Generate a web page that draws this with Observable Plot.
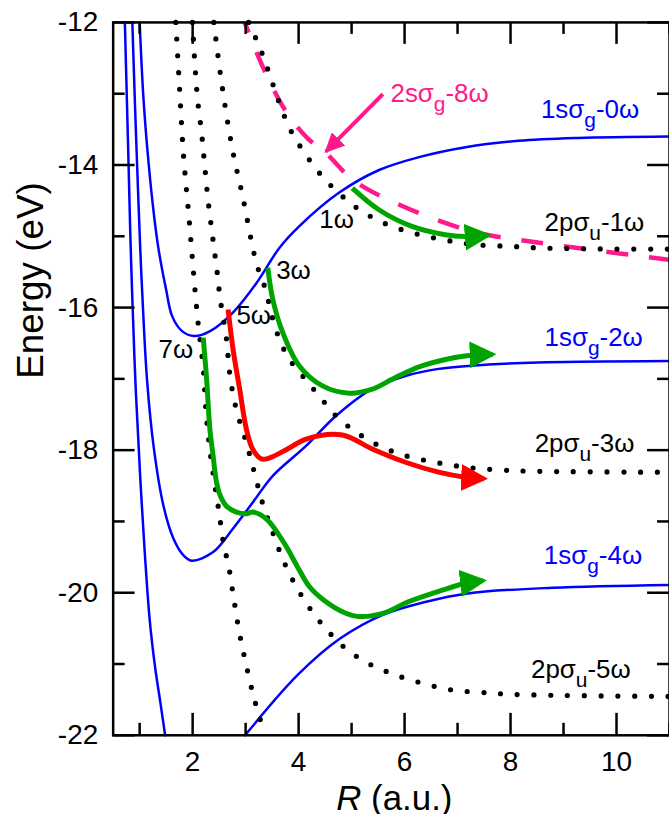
<!DOCTYPE html>
<html>
<head>
<meta charset="utf-8">
<script src="https://cdn.jsdelivr.net/npm/d3@7"></script>
<script src="https://cdn.jsdelivr.net/npm/@observablehq/plot@0.6"></script>
<style>
  html, body { margin: 0; padding: 0; background: #fff; overflow: hidden; }
  #chart svg { display: block; }
</style>
</head>
<body>
<div id="chart"></div>
<script>
// Dressed H2+ potential curves: 1sσg − nω (solid), 2pσu − nω (dotted), 2sσg − 8ω (dashed)
// R in atomic units, energy in eV.

// 1sσg − 0ω
const g0R = [1.0, 1.074, 1.172, 1.275, 1.359, 1.5, 1.613, 1.8, 2.03, 2.33, 2.76, 3.21, 3.64, 4.01, 4.76, 5.52, 6.27, 7.15, 8.15, 9.27, 11];
const g0E = [-12, -13.09, -14.0, -14.73, -15.19, -15.75, -16.12, -16.33, -16.4, -16.33, -16.07, -15.65, -15.16, -14.86, -14.39, -14.07, -13.89, -13.75, -13.66, -13.62, -13.6];

// 1sσg − 2ω
const g2R = [0.862, 0.909, 0.952, 1.012, 1.055, 1.138, 1.262, 1.449, 1.637, 1.819, 1.982, 2.387, 2.763, 3.138, 3.513, 4.14, 4.703, 5.389, 6.016, 6.641, 7.579, 8.517, 11];
const g2E = [-12, -13.09, -14.0, -15.19, -15.89, -17.0, -17.94, -18.78, -19.24, -19.47, -19.55, -19.43, -19.1, -18.73, -18.36, -17.94, -17.52, -17.14, -16.96, -16.86, -16.8, -16.77, -16.75];

// 1sσg − 4ω: inner wall and outer branch (the minimum lies below −22 eV)
const g4InnerR = [0.721, 0.759, 0.791, 0.823, 0.856, 0.918, 1.012, 1.187, 1.294, 1.387, 1.481];
const g4InnerE = [-12, -13.09, -14.0, -14.95, -15.75, -17.0, -18.4, -20.36, -21.06, -21.52, -22];
const g4OuterR = [2.99, 3.988, 4.789, 5.59, 6.389, 7.19, 8.791, 11];
const g4OuterE = [-22, -21.15, -20.64, -20.31, -20.13, -20.01, -19.93, -19.89];

// 2pσu − 1ω
const u1R = [3.057, 3.282, 3.464, 3.639, 3.858, 4.14, 4.451, 4.796, 5.171, 5.64, 6.233, 6.796, 7.359, 7.986, 8.579, 9.205, 9.83, 11];
const u1E = [-12, -12.38, -12.755, -13.137, -13.524, -13.86, -14.163, -14.419, -14.638, -14.824, -14.968, -15.057, -15.118, -15.141, -15.164, -15.173, -15.178, -15.18];

// 2pσu − 3ω
const u3R = [2.4, 2.545, 2.751, 2.95, 3.202, 3.376, 3.489, 3.639, 3.826, 4.076, 4.389, 4.703, 5.078, 5.515, 6.016, 6.579, 7.172, 7.766, 8.391, 11];
const u3E = [-12, -12.835, -13.78, -14.46, -15.373, -15.747, -16.096, -16.446, -16.725, -16.959, -17.238, -17.518, -17.742, -17.937, -18.077, -18.17, -18.24, -18.277, -18.295, -18.31];

// 2pσu − 5ω
const u5R = [1.997, 2.044, 2.095, 2.17, 2.232, 2.294, 2.376, 2.457, 2.522, 2.639, 2.701, 2.823, 3.007, 3.157, 3.314, 3.513, 3.719, 3.95, 4.213, 4.509, 4.885, 5.309, 5.789, 6.333, 6.885, 7.47, 8.07, 11];
const u5E = [-12, -12.601, -13.09, -13.556, -14.045, -14.512, -15.002, -15.467, -15.886, -16.446, -16.935, -17.424, -17.879, -18.287, -18.729, -19.158, -19.559, -19.906, -20.22, -20.5, -20.78, -20.989, -21.143, -21.269, -21.363, -21.399, -21.427, -21.455];

// 2pσu − 7ω
const u7R = [1.682, 1.75, 1.825, 1.937, 2.044, 2.106, 2.2, 2.25, 2.312, 2.4, 2.5, 2.594, 2.671, 2.776, 2.879, 3.001, 3.151, 3.314, 3.367];
const u7E = [-12, -12.881, -13.836, -14.792, -15.747, -16.236, -16.841, -17.424, -17.914, -18.393, -18.878, -19.358, -19.591, -20.081, -20.546, -20.98, -21.455, -21.874, -22];

// 2sσg − 8ω
const s8R = [2.982, 3.326, 3.765, 4.17, 4.515, 4.952, 5.265, 5.765, 6.515, 7.391, 8.141, 9.267, 11];
const s8E = [-12, -12.625, -13.254, -13.626, -13.831, -14.163, -14.325, -14.512, -14.744, -14.954, -15.048, -15.164, -15.33];

// Dissociation pathways (arrows)
const path1R = [5.014, 5.515, 6.14, 6.766, 7.142, 7.57];
const path1E = [-14.325, -14.628, -14.862, -14.978, -15.002, -14.985];
const path3R = [3.419, 3.513, 3.701, 4.014, 4.451, 4.952, 5.389, 5.828, 6.327, 6.954, 7.266, 7.66];
const path3E = [-15.443, -15.887, -16.352, -16.819, -17.099, -17.201, -17.145, -16.981, -16.819, -16.701, -16.669, -16.657];
const path5R = [2.669, 2.763, 2.888, 3.014, 3.132, 3.295, 3.451, 3.789, 4.14, 4.826, 5.389, 6.016, 6.641, 7.141, 7.5];
const path5E = [-16.026, -16.585, -17.145, -17.704, -17.984, -18.123, -18.109, -17.984, -17.844, -17.788, -17.984, -18.17, -18.309, -18.379, -18.4];
const path7R = [2.2, 2.264, 2.325, 2.382, 2.451, 2.522, 2.639, 2.826, 3.014, 3.138, 3.4, 3.734, 3.977, 4.202, 4.484, 4.859, 5.14, 5.59, 6.07, 6.71, 7.129, 7.48];
const path7E = [-16.422, -17.005, -17.704, -18.053, -18.449, -18.641, -18.787, -18.869, -18.892, -18.869, -18.97, -19.312, -19.634, -19.913, -20.109, -20.277, -20.333, -20.29, -20.127, -19.964, -19.871, -19.83];

// Pointer to the 2sσg − 8ω curve
const pointerR = [5.59, 4.515];
const pointerE = [-13.007, -13.813];

// Curve labels ("_x" marks a subscript)
const labelText = ["1sσ_g-0ω", "2pσ_u-1ω", "1sσ_g-2ω", "2pσ_u-3ω", "1sσ_g-4ω", "2pσ_u-5ω", "2sσ_g-8ω", "1ω", "3ω", "5ω", "7ω"];
const labelState = ["1sσg", "2pσu", "1sσg", "2pσu", "1sσg", "2pσu", "2sσg", "2pσu", "2pσu", "2pσu", "2pσu"];
const labelR = [8.573, 8.642, 8.642, 8.455, 8.629, 8.386, 5.734, 4.389, 3.577, 2.826, 1.356];
const labelE = [-13.342, -14.932, -16.539, -18.03, -19.591, -21.199, -13.114, -14.884, -15.597, -16.236, -16.702];

// Axis ticks
const xMajor = [2, 4, 6, 8, 10];
const xMinor = [1, 3, 5, 7, 9, 11];
const yMajor = [-22, -20, -18, -16, -14, -12];
const yMinor = [-21, -19, -17, -15, -13];

const BLUE = "#0000ff", GREEN = "#00a300", RED = "#ff0000", PINK = "#ff1a8c";
const stateColor = {"1sσg": BLUE, "2pσu": "#000000", "2sσg": PINK};

const W = 671, H = 816, mL = 113, mR = 0, mT = 22, mB = 79;
const plotW = W - mL - mR, plotH = H - mT - mB;
const MAJOR = 22, MINOR = 12;

const pts = (R, E) => R.map((r, i) => [r, E[i]]);

// filled triangular arrowhead whose tip sits a few px past the line end
function head(len, half, overshoot) {
  return (color) => {
    const m = d3.create("svg:marker")
      .attr("viewBox", `0 ${-half} ${len} ${2 * half}`)
      .attr("markerWidth", len)
      .attr("markerHeight", 2 * half)
      .attr("markerUnits", "userSpaceOnUse")
      .attr("refX", len - overshoot)
      .attr("refY", 0)
      .attr("orient", "auto");
    m.append("path")
      .attr("d", `M0,${-half}L${len},0L0,${half}Z`)
      .attr("fill", color)
      .attr("stroke", "none");
    return m.node();
  };
}

const solid = {curve: "catmull-rom", stroke: BLUE, strokeWidth: 2.5};
const dotted = {curve: "catmull-rom", stroke: "#000", strokeWidth: 5.2, strokeDasharray: "0,16.8", strokeLinecap: "round"};
const thick = (color) => ({curve: "catmull-rom", stroke: color, strokeWidth: 5, strokeLinecap: "butt", markerEnd: head(27, 13.5, 4)});

const tickStyle = {stroke: "#000", strokeWidth: 2.5};

const chart = Plot.plot({
  width: W, height: H,
  marginLeft: mL, marginRight: mR, marginTop: mT, marginBottom: mB,
  x: {domain: [0.5, 11]},
  y: {domain: [-22, -12]},
  color: {type: "identity"},
  style: {fontFamily: "'Liberation Sans', Arial, sans-serif", background: "#fff", color: "#000", overflow: "visible"},
  marks: [
    Plot.line(pts(g0R, g0E), solid),
    Plot.line(pts(g2R, g2E), solid),
    Plot.line(pts(g4InnerR, g4InnerE), solid),
    Plot.line(pts(g4OuterR, g4OuterE), solid),

    Plot.line(pts(s8R, s8E), {curve: "catmull-rom", stroke: PINK, strokeWidth: 4.5, strokeDasharray: "22,21", strokeDashoffset: 11, strokeLinecap: "butt"}),

    Plot.line(pts(u1R, u1E), dotted),
    Plot.line(pts(u3R, u3E), dotted),
    Plot.line(pts(u5R, u5E), dotted),
    Plot.line(pts(u7R, u7E), dotted),

    Plot.line(pts(path1R, path1E), thick(GREEN)),
    Plot.line(pts(path3R, path3E), thick(GREEN)),
    Plot.line(pts(path7R, path7E), thick(GREEN)),
    Plot.line(pts(path5R, path5E), thick(RED)),

    Plot.line(pts(pointerR, pointerE), {stroke: PINK, strokeWidth: 4, strokeLinecap: "butt", markerEnd: head(20, 9.5, 2)}),

    Plot.text(labelText, {
      x: (d, i) => labelR[i], y: (d, i) => labelE[i], text: (d) => d,
      fill: (d, i) => stateColor[labelState[i]],
      textAnchor: "start", lineAnchor: "bottom", fontSize: 26
    }),

    // inward ticks on all four sides
    Plot.tickX(xMajor, {x: (d) => d, ...tickStyle, insetTop: plotH - MAJOR}),
    Plot.tickX(xMinor, {x: (d) => d, ...tickStyle, insetTop: plotH - MINOR}),
    Plot.tickX(xMajor, {x: (d) => d, ...tickStyle, insetBottom: plotH - MAJOR}),
    Plot.tickX(xMinor, {x: (d) => d, ...tickStyle, insetBottom: plotH - MINOR}),
    Plot.tickY(yMajor, {y: (d) => d, ...tickStyle, insetRight: plotW - MAJOR}),
    Plot.tickY(yMinor, {y: (d) => d, ...tickStyle, insetRight: plotW - MINOR}),
    Plot.tickY(yMajor, {y: (d) => d, ...tickStyle, insetLeft: plotW - MAJOR}),
    Plot.tickY(yMinor, {y: (d) => d, ...tickStyle, insetLeft: plotW - MINOR}),
    Plot.frame({stroke: "#000", strokeWidth: 2.5}),

    Plot.axisX(xMajor, {tickSize: 0, tickPadding: 16, fontSize: 28, tickFormat: (d) => String(d), label: null}),
    Plot.axisY(yMajor, {tickSize: 0, tickPadding: 15, fontSize: 28, tickFormat: (d) => String(d), label: null}),

    Plot.text(["*R* (a.u.)"], {text: (d) => d, frameAnchor: "bottom", dx: 3, dy: 75, lineAnchor: "bottom", fontSize: 35}),
    Plot.text(["Energy (eV)"], {text: (d) => d, frameAnchor: "left", dx: -82, rotate: -90, lineAnchor: "middle", fontSize: 37})
  ]
});

// turn "_x" into a lowered subscript and "*...*" into italics
function richText(node, subSize, subShift) {
  const s = node.textContent;
  if (!/[_*]/.test(s)) return;
  const NS = "http://www.w3.org/2000/svg";
  node.textContent = "";
  let buf = "", italic = false, pendingDy = 0;
  const flush = () => {
    if (!buf) return;
    const t = document.createElementNS(NS, "tspan");
    t.textContent = buf;
    if (italic) t.setAttribute("font-style", "italic");
    if (pendingDy) { t.setAttribute("dy", pendingDy); pendingDy = 0; }
    node.appendChild(t);
    buf = "";
  };
  for (let i = 0; i < s.length; i++) {
    const c = s[i];
    if (c === "*") { flush(); italic = !italic; }
    else if (c === "_" && i + 1 < s.length) {
      flush();
      const t = document.createElementNS(NS, "tspan");
      t.textContent = s[++i];
      t.setAttribute("font-size", subSize);
      t.setAttribute("dy", subShift);
      node.appendChild(t);
      pendingDy = -subShift;
    } else buf += c;
  }
  flush();
}
chart.querySelectorAll("text").forEach((t) => richText(t, 21, 9));

document.getElementById("chart").appendChild(chart);
</script>
</body>
</html>
